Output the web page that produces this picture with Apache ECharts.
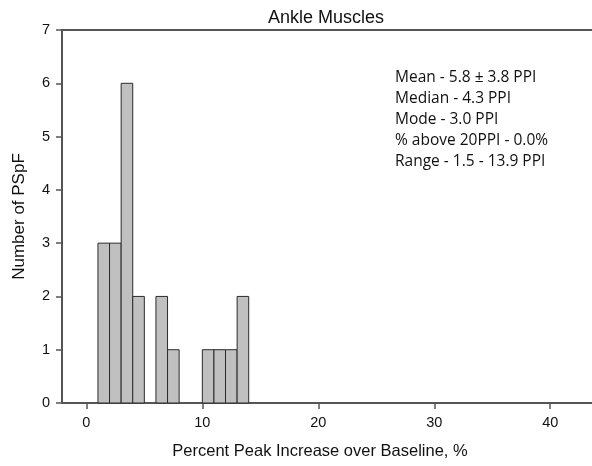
<!DOCTYPE html>
<html>
<head>
<meta charset="utf-8">
<script src="https://cdn.jsdelivr.net/npm/echarts@6/dist/echarts.min.js"></script>
<style>
  html, body { margin: 0; padding: 0; background: #fff; }
  #chart { width: 592px; height: 466px; }
</style>
</head>
<body>
<div id="chart"></div>
<script>
// Histogram bins: each bin spans [binEdges[i], binEdges[i+1]) with counts[i] entries
const binEdges = [1, 2, 3, 4, 5, 6, 7, 8, 9, 10, 11, 12, 13, 14];
const counts = [3, 3, 6, 2, 0, 2, 1, 0, 0, 1, 1, 1, 2];
const xTickValues = [0, 10, 20, 30, 40];
const statLines = [
  'Mean - 5.8 \u00b1 3.8 PPI',
  'Median - 4.3 PPI',
  'Mode - 3.0 PPI',
  '% above 20PPI - 0.0%',
  'Range - 1.5 - 13.9 PPI'
];

const bins = counts.map((c, i) => [binEdges[i], binEdges[i + 1], c]).filter(b => b[2] > 0);

const axisColor = '#555';
const font = '"Liberation Sans", Arial, sans-serif';

const chart = echarts.init(document.getElementById('chart'), null, { renderer: 'canvas' });
chart.setOption({
  animation: false,
  backgroundColor: '#fff',
  title: {
    text: 'Ankle Muscles',
    left: 321, top: 4, textAlign: 'center',
    textStyle: { fontFamily: font, fontSize: 18, fontWeight: 'normal', color: '#111' }
  },
  grid: { left: 62, right: 0, top: 30, bottom: 63 },
  xAxis: [{
    type: 'value', min: -2.1, max: 43.6,
    name: 'Percent Peak Increase over Baseline, %',
    nameLocation: 'middle', nameGap: 40,
    nameTextStyle: { fontFamily: font, fontSize: 16.5, color: '#111', padding: [0, 14, 0, 0] },
    axisLine: { show: true, onZero: false, lineStyle: { color: axisColor, width: 2 } },
    axisTick: { show: true, length: 6, customValues: xTickValues, lineStyle: { color: axisColor, width: 1.5 } },
    axisLabel: { customValues: xTickValues, margin: 12, fontFamily: font, fontSize: 14.5, color: '#111' },
    splitLine: { show: false }
  }, {
    type: 'value', min: -2.1, max: 43.6, position: 'top',
    axisLine: { show: true, onZero: false, lineStyle: { color: axisColor, width: 2 } },
    axisTick: { show: false }, axisLabel: { show: false }, splitLine: { show: false }
  }],
  yAxis: {
    type: 'value', min: 0, max: 7, interval: 1,
    name: 'Number of PSpF', nameLocation: 'middle', nameGap: 34,
    nameTextStyle: { fontFamily: font, fontSize: 17, color: '#111' },
    axisLine: { show: true, onZero: false, lineStyle: { color: axisColor, width: 2 } },
    axisTick: { show: true, length: 6, lineStyle: { color: axisColor, width: 1.5 } },
    axisLabel: { margin: 12, fontFamily: font, fontSize: 14.5, color: '#111' },
    splitLine: { show: false }
  },
  graphic: [{
    type: 'text', left: 395, top: 67,
    style: {
      text: statLines.join('\n'),
      font: '15.5px "Open Sans", sans-serif',
      lineHeight: 21,
      fill: '#111'
    }
  }],
  series: [{
    type: 'custom',
    xAxisIndex: 0,
    data: bins,
    renderItem: function (params, api) {
      const p0 = api.coord([api.value(0), 0]);
      const p1 = api.coord([api.value(1), api.value(2)]);
      return {
        type: 'rect',
        shape: { x: p0[0], y: p1[1], width: p1[0] - p0[0], height: p0[1] - p1[1] },
        style: { fill: '#c0c0c0', stroke: '#2b2b2b', lineWidth: 1 }
      };
    }
  }]
});
</script>
</body>
</html>
